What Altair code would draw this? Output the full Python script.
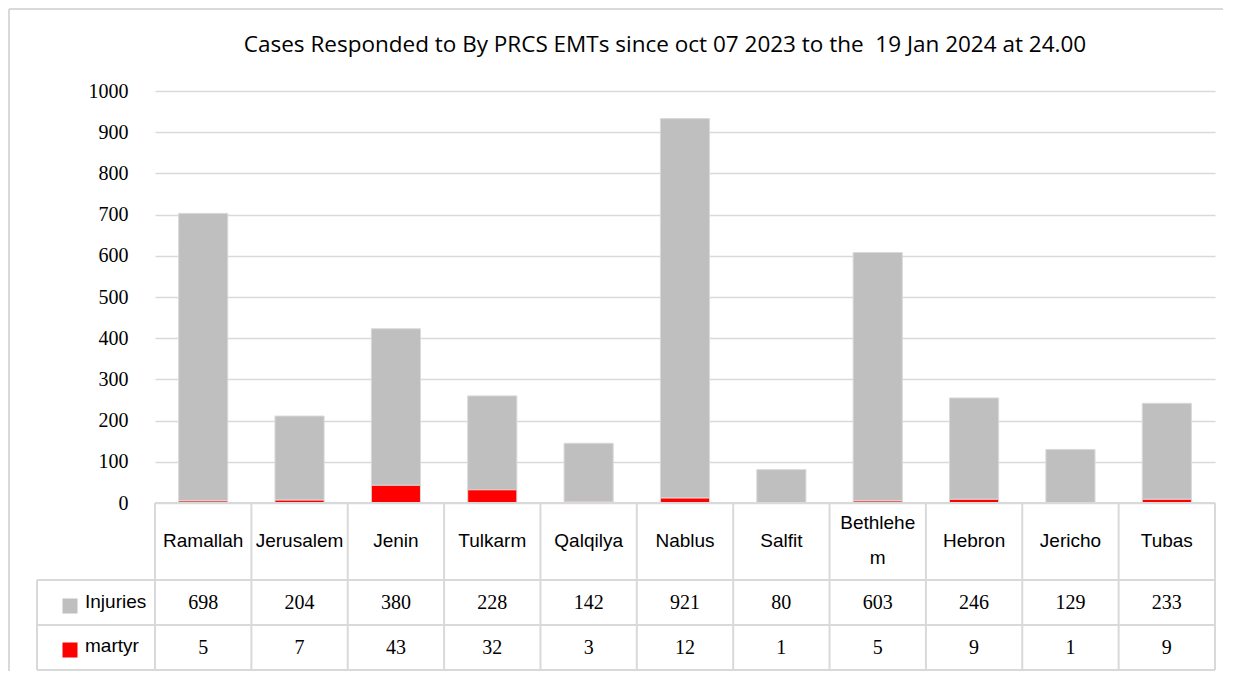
import altair as alt
import pandas as pd

cats = ["Ramallah", "Jerusalem", "Jenin", "Tulkarm", "Qalqilya", "Nablus",
        "Salfit", "Bethlehem", "Hebron", "Jericho", "Tubas"]
header_labels = ["Ramallah", "Jerusalem", "Jenin", "Tulkarm", "Qalqilya", "Nablus",
                 "Salfit", "Bethlehe\nm", "Hebron", "Jericho", "Tubas"]
injuries = [698, 204, 380, 228, 142, 921, 80, 603, 246, 129, 233]
martyr = [5, 7, 43, 32, 3, 12, 1, 5, 9, 1, 9]
series = ["Injuries", "martyr"]
colors = ["#bfbfbf", "#ff0000"]
y_ticks = list(range(0, 1001, 100))
title_text = "Cases Responded to By PRCS EMTs since oct 07 2023 to the\u00a0 19 Jan 2024 at 24.00"

W, H, TH = 1060, 412, 167
GRID = "#d9d9d9"

rows = []
for c, i, m in zip(cats, injuries, martyr):
    rows.append({"district": c, "series": "Injuries", "value": i, "ord": 1})
    rows.append({"district": c, "series": "martyr", "value": m, "ord": 0})
bars_df = pd.DataFrame(rows)
tbl_df = pd.DataFrame({"district": cats, "label": header_labels,
                       "injuries": injuries, "martyr": martyr})
one = pd.DataFrame({"a": [0]})

xscale = alt.Scale(domain=cats, padding=0)
xenc = alt.X("district:N", scale=xscale, axis=None, sort=cats)
cscale = alt.Scale(domain=series, range=colors)

bars = alt.Chart(bars_df).mark_bar(width=alt.RelativeBandSize(0.51), stroke=GRID, strokeWidth=1).encode(
    x=xenc,
    y=alt.Y("value:Q", stack="zero", scale=alt.Scale(domain=[0, 1000], nice=False),
            axis=alt.Axis(values=y_ticks, format="d", grid=True, gridColor=GRID, gridWidth=1.5,
                          domain=False, ticks=False, labelFont="Liberation Serif",
                          labelFontSize=20, labelColor="black", labelPadding=27, title=None)),
    color=alt.Color("series:N", scale=cscale, legend=None),
    order=alt.Order("ord:Q"),
)
title = alt.Chart(pd.DataFrame({"t": [title_text]})).mark_text(
    font="Open Sans", fontSize=22.5, align="center", baseline="middle", color="black"
).encode(text="t:N", x=alt.value(510), y=alt.value(-46))
border_v1 = alt.Chart(one).mark_rule(color=GRID, strokeWidth=2).encode(
    x=alt.value(-146), y=alt.value(-82), y2=alt.value(H))
border_h = alt.Chart(one).mark_rule(color=GRID, strokeWidth=2).encode(
    y=alt.value(-82), x=alt.value(-146), x2=alt.value(1068))

top = alt.layer(border_v1, border_h, bars, title).properties(width=W, height=H)

# ---- table ----
def hrule(yv, x0):
    return alt.Chart(one).mark_rule(color=GRID, strokeWidth=2).encode(
        y=alt.value(yv), x=alt.value(x0), x2=alt.value(W))

def vrule(xv, y0, y1):
    return alt.Chart(one).mark_rule(color=GRID, strokeWidth=2).encode(
        x=alt.value(xv), y=alt.value(y0), y2=alt.value(y1))

vlines = alt.Chart(tbl_df).mark_rule(color=GRID, strokeWidth=2).encode(
    x=alt.X("district:N", scale=xscale, axis=None, sort=cats, bandPosition=0),
    y=alt.value(0), y2=alt.value(TH))

hdr_single = alt.Chart(tbl_df).transform_filter(
    "indexof(datum.label, '\\n') < 0"
).mark_text(font="Liberation Sans", fontSize=19, baseline="middle", color="black").encode(
    x=xenc, y=alt.value(38), text="label:N")
hdr_multi = alt.Chart(tbl_df).transform_filter(
    "indexof(datum.label, '\\n') >= 0"
).mark_text(font="Liberation Sans", fontSize=19, lineBreak="\n", lineHeight=35,
            baseline="middle", color="black").encode(
    x=xenc, y=alt.value(20), text="label:N")
inj_txt = alt.Chart(tbl_df).mark_text(font="Liberation Serif", fontSize=20,
                                      baseline="middle", color="black").encode(
    x=xenc, y=alt.value(100), text="injuries:Q")
mar_txt = alt.Chart(tbl_df).mark_text(font="Liberation Serif", fontSize=20,
                                      baseline="middle", color="black").encode(
    x=xenc, y=alt.value(145), text="martyr:Q")

leg_df = pd.DataFrame({"series": series})
sw_inj = alt.Chart(leg_df).transform_filter(alt.datum.series == "Injuries").mark_square(
    size=225, opacity=1).encode(x=alt.value(-85), y=alt.value(103),
                                color=alt.Color("series:N", scale=cscale, legend=None))
sw_mar = alt.Chart(leg_df).transform_filter(alt.datum.series == "martyr").mark_square(
    size=225, opacity=1).encode(x=alt.value(-85), y=alt.value(147),
                                color=alt.Color("series:N", scale=cscale, legend=None))
lt_inj = alt.Chart(leg_df).transform_filter(alt.datum.series == "Injuries").mark_text(
    font="Liberation Sans", fontSize=19, align="left", baseline="middle", color="black").encode(
    x=alt.value(-70), y=alt.value(99), text="series:N")
lt_mar = alt.Chart(leg_df).transform_filter(alt.datum.series == "martyr").mark_text(
    font="Liberation Sans", fontSize=19, align="left", baseline="middle", color="black").encode(
    x=alt.value(-70), y=alt.value(143), text="series:N")

bottom = alt.layer(
    vlines, vrule(W, 0, TH), vrule(-118, 77, TH), vrule(-146, 0, TH + 1),
    hrule(0, 0), hrule(77, -118), hrule(122, -118), hrule(TH, -118),
    hdr_single, hdr_multi, inj_txt, mar_txt, sw_inj, sw_mar, lt_inj, lt_mar,
).properties(width=W, height=TH)

chart = alt.vconcat(top, bottom, spacing=0, bounds="flush").resolve_scale(
    x="shared", color="shared"
).properties(
    padding={"left": 0, "top": 0, "right": 4, "bottom": 0}
).configure_view(strokeWidth=0).configure_axis(
    labelFont="Liberation Serif", labelFontSize=20, labelColor="black"
)

chart.save("out.html", embed_options={"renderer": "svg", "actions": False})
